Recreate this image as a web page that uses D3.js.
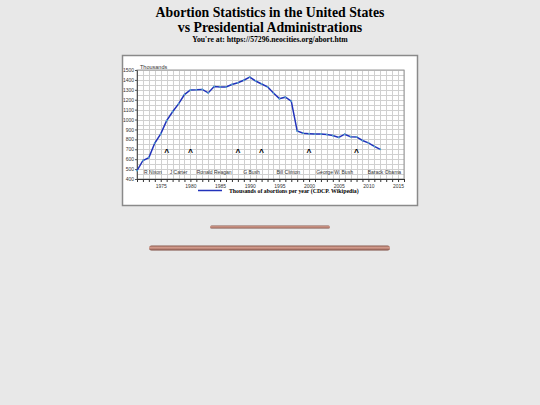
<!DOCTYPE html>
<html><head><meta charset="utf-8">
<script src="https://d3js.org/d3.v7.min.js"></script>
<style>
html,body{margin:0;padding:0;background:#e8e8e8;}
svg{display:block;}
</style></head>
<body>
<svg id="c" width="540" height="405"></svg>
<script>
const years = d3.range(1971, 2013);
const abortions = [485,587,616,763,855,989,1079,1158,1252,1298,1300,1304,1269,1334,1329,1328,1354,1371,1397,1429,1389,1359,1330,1267,1211,1226,1186,884,862,857,853,854,848,839,820,852,827,825,789,765,730,699];
const yTicks = [400,500,600,700,800,900,1000,1100,1200,1300,1400,1500];
const xTicks = [1975,1980,1985,1990,1995,2000,2005,2010,2015];
const markerYears = [1976,1980,1988,1992,2000,2008];
const presidents = ["R Nixon","J Carter","Ronald Reagan","G Bush","Bill Clinton","George W. Bush","Barack Obama"];
const presidentX = [1973.7,1978.0,1984.0,1990.3,1996.5,2004.3,2012.7];

const svg = d3.select("#c");
const serif = "'Liberation Serif','Times New Roman',serif";
const sans = "'Liberation Sans',Arial,sans-serif";

// titles
svg.append("text").attr("x",270).attr("y",17).attr("text-anchor","middle")
  .attr("font-family",serif).attr("font-weight","bold").attr("font-size",13.8).attr("fill","#000")
  .text("Abortion Statistics in the United States");
svg.append("text").attr("x",270).attr("y",32).attr("text-anchor","middle")
  .attr("font-family",serif).attr("font-weight","bold").attr("font-size",13.8).attr("fill","#000")
  .text("vs Presidential Administrations");
svg.append("text").attr("x",270).attr("y",42).attr("text-anchor","middle")
  .attr("font-family",serif).attr("font-weight","bold").attr("font-size",7.7).attr("fill","#000")
  .text("You're at: https://57296.neocities.org/abort.htm");

// chart box
svg.append("rect").attr("x",122.5).attr("y",55.5).attr("width",295).attr("height",150)
  .attr("fill","#fff").attr("stroke","#8a8a8a").attr("stroke-width",1.5);

const x = d3.scaleLinear().domain([1971,2016]).range([137,404]);
const y = d3.scaleLinear().domain([400,1500]).range([179,70]);

const g = svg.append("g");
// grid
g.selectAll("line.vg").data(d3.range(1971,2017)).join("line")
  .attr("x1",d=>Math.round(x(d))+0.5).attr("x2",d=>Math.round(x(d))+0.5)
  .attr("y1",y(1500)).attr("y2",y(400)).attr("stroke","#d0d0d0").attr("stroke-width",1);
g.selectAll("line.hg").data(d3.range(400,1501,50)).join("line")
  .attr("x1",x(1971)).attr("x2",x(2016))
  .attr("y1",d=>Math.round(y(d))+0.5).attr("y2",d=>Math.round(y(d))+0.5)
  .attr("stroke","#d0d0d0").attr("stroke-width",1);
g.append("rect").attr("x",x(1971)).attr("y",y(1500)).attr("width",x(2016)-x(1971)).attr("height",y(400)-y(1500))
  .attr("fill","none").attr("stroke","#999").attr("stroke-width",1);

// axes
const yAxis = d3.axisLeft(y).tickValues(yTicks).tickSize(2).tickPadding(1).tickFormat(d3.format("d"));
const ya = svg.append("g").attr("transform",`translate(${x(1971)},0)`).call(yAxis);
ya.select(".domain").attr("stroke","#555");
ya.selectAll("text").attr("font-family",sans).attr("font-size",5).attr("fill","#333");
ya.selectAll(".tick line").attr("stroke","#555");

const xAxis = d3.axisBottom(x).tickValues(d3.range(1971,2017)).tickSize(3).tickFormat(d=>xTicks.includes(d)?d:"").tickPadding(2);
const xa = svg.append("g").attr("transform",`translate(0,${y(400)})`).call(xAxis);
xa.select(".domain").attr("stroke","#333");
xa.selectAll("text").attr("font-family",sans).attr("font-size",5).attr("fill","#333");
xa.selectAll(".tick line").attr("stroke","#333");

svg.append("text").attr("x",140).attr("y",69).attr("font-family",sans).attr("font-size",5.5).attr("fill","#333").text("Thousands");

// line
const data = years.map((yr,i)=>({yr, v:abortions[i]}));
svg.append("path").datum(data)
  .attr("d", d3.line().x(d=>x(d.yr)).y(d=>y(d.v)))
  .attr("fill","none").attr("stroke","#2233bb").attr("stroke-width",1.5);
svg.selectAll("circle.pt").data(data).join("circle")
  .attr("cx",d=>x(d.yr)).attr("cy",d=>y(d.v)).attr("r",0.9).attr("fill","#55aacc");

// markers
svg.selectAll("text.mk").data(markerYears).join("text")
  .attr("x",d=>x(d)).attr("y",155).attr("text-anchor","middle")
  .attr("font-family",sans).attr("font-weight","bold").attr("font-size",8.5).attr("fill","#000").text("^");
svg.selectAll("text.pr").data(presidents).join("text")
  .attr("x",(d,i)=>x(presidentX[i])).attr("y",174).attr("text-anchor","middle")
  .attr("font-family",sans).attr("font-size",5).attr("fill","#333").text(d=>d);

// legend
svg.append("line").attr("x1",198).attr("x2",222).attr("y1",190.5).attr("y2",190.5)
  .attr("stroke","#2233bb").attr("stroke-width",1.5);
svg.append("text").attr("x",229).attr("y",192.5).attr("font-family",serif).attr("font-weight","bold")
  .attr("font-size",5.8).attr("fill","#000").text("Thousands of abortions per year (CDCP. Wikipedia)");

// decorative rules
const defs = svg.append("defs");
const gr = defs.append("linearGradient").attr("id","hrg").attr("x1",0).attr("x2",0).attr("y1",0).attr("y2",1);
gr.append("stop").attr("offset","0%").attr("stop-color","#8a5a4e");
gr.append("stop").attr("offset","45%").attr("stop-color","#d9a090");
gr.append("stop").attr("offset","100%").attr("stop-color","#7a4a40");
svg.append("rect").attr("x",210).attr("y",225.5).attr("width",120).attr("height",3).attr("rx",1.5).attr("fill","url(#hrg)");
svg.append("rect").attr("x",149).attr("y",245.5).attr("width",241).attr("height",5).attr("rx",2.5).attr("fill","url(#hrg)");
</script>
</body></html>
